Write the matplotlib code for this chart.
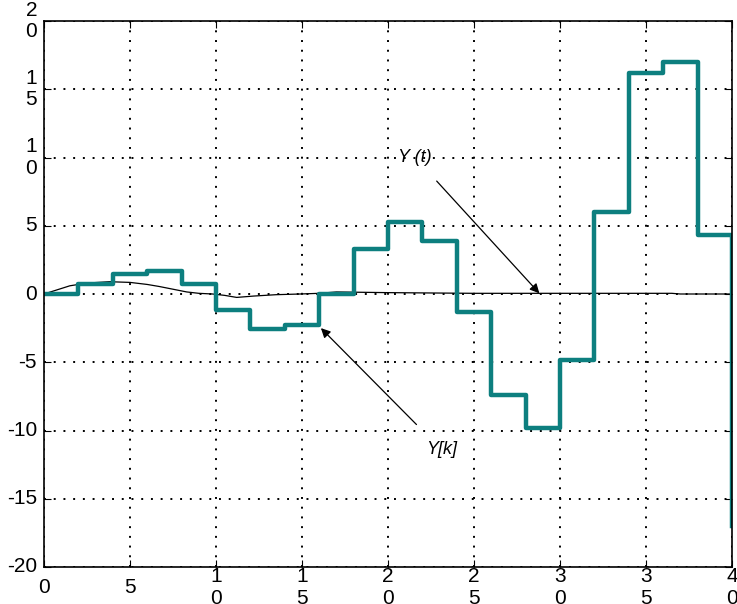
import matplotlib
matplotlib.use("Agg")
import matplotlib.pyplot as plt

plt.rcParams['font.family'] = ['Liberation Sans', 'DejaVu Sans']

# sampled sequence Y[k] (held over each interval of 2)
k_times = [0, 2, 4, 6, 8, 10, 12, 14, 16, 18, 20, 22, 24, 26, 28, 30, 32, 34, 36, 38, 40]
yk_vals = [0, 0.7, 1.5, 1.7, 0.7, -1.2, -2.6, -2.3, 0.0, 3.3, 5.3, 3.9, -1.3, -7.4, -9.8, -4.8, 6.0, 16.2, 17.0, 4.3, -17.0]

# continuous response Y(t)
t_vals = [0, 0.5, 1.5, 2.5, 3.8, 5.0, 6.0, 6.7, 7.5, 8.3, 9.0, 9.8, 10.5, 11.2, 12.2, 13.5, 14.9, 16.0, 17.0, 20, 25, 30, 36.5, 37, 40]
yt_vals = [0, 0.2, 0.6, 0.8, 0.9, 0.85, 0.7, 0.55, 0.35, 0.15, 0.05, 0.0, -0.1, -0.25, -0.15, -0.05, 0.0, 0.05, 0.15, 0.1, 0.05, 0.05, 0.05, 0.0, 0.0]

x_ticks = [0, 5, 10, 15, 20, 25, 30, 35, 40]
x_labels = ["0", "5", "1\n0", "1\n5", "2\n0", "2\n5", "3\n0", "3\n5", "4\n0"]
y_ticks = [-20, -15, -10, -5, 0, 5, 10, 15, 20]
y_labels = ["-20", "-15", "-10", "-5", "0", "5", "1\n0", "1\n5", "2\n0"]

fig = plt.figure(figsize=(7.37, 6.04), dpi=100)
ax = fig.add_axes([44 / 737, 1 - 567 / 604, 688 / 737, 546 / 604])

ax.plot(t_vals, yt_vals, color="black", lw=0.9)
ax.step(k_times, yk_vals, where="post", color="#0d7f7f", lw=3.2)

ax.set_xlim(0, 40)
ax.set_ylim(-20, 20)
ax.set_xticks(x_ticks)
ax.set_xticklabels(x_labels, fontsize=15, va="center", linespacing=1.2)
ax.set_yticks(y_ticks)
ax.set_yticklabels(y_labels, fontsize=15, va="center", linespacing=1.15)
ax.tick_params(direction="in", top=True, right=True, length=5, colors="black")
ax.tick_params(axis="x", pad=14.5)
ax.tick_params(axis="y", pad=5)
ax.grid(True, color="black", linestyle=(0, (1, 4)), lw=1.4)
for s in ax.spines.values():
    s.set_color("black")
    s.set_linewidth(1.2)

ax.annotate("Y (t)", xy=(28.8, 0.05), xytext=(20.6, 10.0),
            fontsize=13, style="italic", va="center", ha="left",
            arrowprops=dict(arrowstyle="-|>", color="black", lw=0.9,
                            mutation_scale=14, shrinkA=12, shrinkB=0))
ax.annotate("Y[k]", xy=(16.1, -2.5), xytext=(22.2, -11.4),
            fontsize=13, style="italic", va="center", ha="left",
            arrowprops=dict(arrowstyle="-|>", color="black", lw=0.9,
                            mutation_scale=14, shrinkA=14, shrinkB=0))

fig.savefig("out.png", dpi=100)
